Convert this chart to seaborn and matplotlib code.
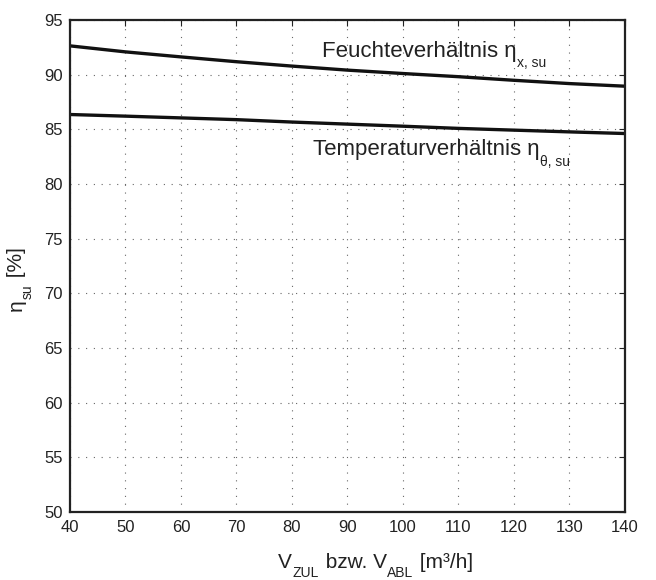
import numpy as np
import pandas as pd
import matplotlib
matplotlib.use("Agg")
import matplotlib.pyplot as plt
import seaborn as sns

# -------------------- DATA --------------------
volumenstrom = [40, 50, 60, 70, 80, 90, 100, 110, 120, 130, 140]
feuchte = [92.65, 92.1, 91.64, 91.2, 90.8, 90.43, 90.12, 89.83, 89.5, 89.2, 88.96]
temperatur = [86.37, 86.22, 86.06, 85.9, 85.68, 85.49, 85.3, 85.1, 84.94, 84.78, 84.63]
x_ticks = [40, 50, 60, 70, 80, 90, 100, 110, 120, 130, 140]
y_ticks = [50, 55, 60, 65, 70, 75, 80, 85, 90, 95]

df = pd.DataFrame({
    "V": volumenstrom * 2,
    "eta": feuchte + temperatur,
    "kurve": ["feuchte"] * len(volumenstrom) + ["temperatur"] * len(volumenstrom),
})

# -------------------- STYLE --------------------
sns.set_theme(style="white")
plt.rcParams["font.family"] = ["Liberation Sans", "DejaVu Sans"]
TXT = "#222222"

fig = plt.figure(figsize=(6.56, 5.8), dpi=100)
ax = fig.add_axes([0.1067, 0.1172, 0.846, 0.848])

sns.lineplot(data=df, x="V", y="eta", units="kurve", estimator=None,
             color="#111111", linewidth=2.4, ax=ax, legend=False)

ax.set_xlim(40, 140)
ax.set_ylim(50, 95)
ax.set_xticks(x_ticks)
ax.set_yticks(y_ticks)
ax.set_xlabel("")
ax.set_ylabel("")
ax.grid(True, linestyle=(0, (1, 6)), color="#666666", linewidth=0.8)
ax.tick_params(direction="in", length=4, width=0.8, top=True, right=True,
               labelsize=12, colors=TXT)
ax.tick_params(axis="x", pad=6)
ax.tick_params(axis="y", pad=5)
for s in ax.spines.values():
    s.set_color(TXT)
    s.set_linewidth(1.6)


# text with small, lowered subscripts (segments: (text, is_sub))
def chain_text(x, y, segments, transform, size=15, subsize=10, drop=6, rotation=0):
    first = ax.text(x, y, segments[0][0], transform=transform, fontsize=size, color=TXT,
                    rotation=rotation, ha="right" if rotation else "left",
                    va="bottom" if rotation else "baseline", clip_on=False)
    prev = first
    for txt, sub in segments[1:]:
        fs = subsize if sub else size
        if rotation:
            prev = ax.annotate(txt, xy=(1, 1), xycoords=(first, prev),
                               xytext=(drop if sub else 0, 0.5), textcoords="offset points",
                               fontsize=fs, color=TXT, rotation=90, ha="right", va="bottom")
        else:
            prev = ax.annotate(txt, xy=(1, 0), xycoords=(prev, first),
                               xytext=(0.5, -drop if sub else 0), textcoords="offset points",
                               fontsize=fs, color=TXT, ha="left", va="bottom")
    return first


# -------------------- LABELS --------------------
chain_text(278 / 656, 12 / 580,
           [("V", False), ("ZUL", True), (" bzw. V", False), ("ABL", True), (" [m³/h]", False)],
           fig.transFigure)
chain_text(26 / 656, 269 / 580,
           [("η", False), ("su", True), (" [%]", False)],
           fig.transFigure, rotation=90)

chain_text(85.4, 91.64, [("Feuchteverhältnis η", False), ("x, su", True)],
           ax.transData, size=16)
chain_text(83.8, 82.65, [("Temperaturverhältnis η", False), ("θ, su", True)],
           ax.transData, size=16)

fig.savefig("out.png", dpi=100)
